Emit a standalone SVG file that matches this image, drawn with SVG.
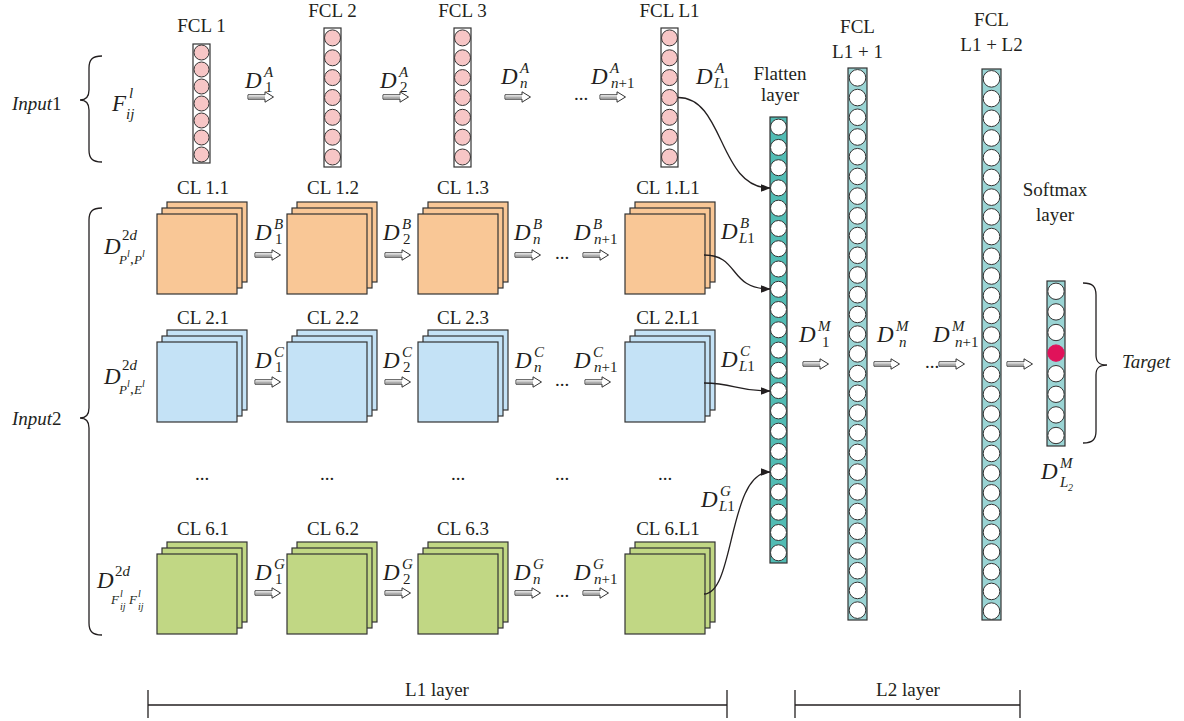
<svg xmlns="http://www.w3.org/2000/svg" xmlns:xlink="http://www.w3.org/1999/xlink" width="1184" height="721" viewBox="0 0 1184 721">
<style>
.t{font-family:"Liberation Serif",serif;font-size:19px;fill:#231f20}
.d{font-family:"Liberation Serif",serif;font-size:23px;font-style:italic;fill:#231f20}
.s{font-family:"Liberation Serif",serif;font-size:15px;fill:#231f20}
.si{font-family:"Liberation Serif",serif;font-size:15px;font-style:italic;fill:#231f20}
.sm{font-family:"Liberation Serif",serif;font-size:13px;font-style:italic;fill:#231f20}
.xs{font-family:"Liberation Serif",serif;font-size:10px;font-style:italic;fill:#231f20}
.i{font-style:italic}
.col{stroke:#333;stroke-width:1.2}
.cw{fill:#fff;stroke:#333;stroke-width:1}
.cp{fill:#f7c6c6;stroke:#333;stroke-width:1}
.ln{fill:none;stroke:#231f20;stroke-width:1.3}
.cv{fill:none;stroke:#231f20;stroke-width:1.3;marker-end:url(#ah)}
</style>
<defs>
<marker id="ah" markerWidth="10" markerHeight="8" refX="9.5" refY="4" orient="auto" markerUnits="userSpaceOnUse"><path d="M0,0 L10,4 L0,8 Z" fill="#231f20"/></marker>
<linearGradient id="gs" x1="0" y1="0" x2="0" y2="1"><stop offset="0" stop-color="#eeeeee"/><stop offset="1" stop-color="#8c8c8c"/></linearGradient>
<g id="ba"><path d="M0,-2.2 H17 V-5.2 L25.5,0 L17,5.2 V2.2 H0 Z" fill="#fff" stroke="#333" stroke-width="1"/><rect x="0.5" y="-1.7" width="16.5" height="3.4" fill="url(#gs)"/></g>
<g id="stack" stroke="#333" stroke-width="1.2"><rect x="10" y="-12" width="80" height="80"/><rect x="5" y="-6" width="80" height="80"/><rect x="0" y="0" width="80" height="80"/></g>
<g id="c7p" class="cp"><circle cx="0" cy="9.9" r="8"/><circle cx="0" cy="29.8" r="8"/><circle cx="0" cy="49.6" r="8"/><circle cx="0" cy="69.5" r="8"/><circle cx="0" cy="89.3" r="8"/><circle cx="0" cy="109.2" r="8"/><circle cx="0" cy="129" r="8"/></g>
<g id="c28" class="cw"><circle cx="0" cy="9.86" r="8.3"/><circle cx="0" cy="29.57" r="8.3"/><circle cx="0" cy="49.29" r="8.3"/><circle cx="0" cy="69" r="8.3"/><circle cx="0" cy="88.71" r="8.3"/><circle cx="0" cy="108.43" r="8.3"/><circle cx="0" cy="128.14" r="8.3"/><circle cx="0" cy="147.86" r="8.3"/><circle cx="0" cy="167.57" r="8.3"/><circle cx="0" cy="187.29" r="8.3"/><circle cx="0" cy="207" r="8.3"/><circle cx="0" cy="226.71" r="8.3"/><circle cx="0" cy="246.43" r="8.3"/><circle cx="0" cy="266.14" r="8.3"/><circle cx="0" cy="285.86" r="8.3"/><circle cx="0" cy="305.57" r="8.3"/><circle cx="0" cy="325.29" r="8.3"/><circle cx="0" cy="345" r="8.3"/><circle cx="0" cy="364.71" r="8.3"/><circle cx="0" cy="384.43" r="8.3"/><circle cx="0" cy="404.14" r="8.3"/><circle cx="0" cy="423.86" r="8.3"/><circle cx="0" cy="443.57" r="8.3"/><circle cx="0" cy="463.29" r="8.3"/><circle cx="0" cy="483" r="8.3"/><circle cx="0" cy="502.71" r="8.3"/><circle cx="0" cy="522.43" r="8.3"/><circle cx="0" cy="542.14" r="8.3"/></g>
</defs>
<rect width="1184" height="721" fill="#fff"/>

<g id="input1">
<path class="ln" d="M102,56 C92,56 89,60 89,68 L89,90 C89,97 86,100 80,100 C86,100 89,103 89,110 L89,150 C89,158 92,162 102,162"/>
<text class="t" x="12" y="110"><tspan class="i">Input</tspan>1</text>
<text class="d" x="112" y="111">F</text><text class="si" x="129" y="98">l</text><text class="si" x="126" y="119">ij</text>
</g>
<g id="input2">
<path class="ln" d="M102,208 C92,208 89,212 89,220 L89,408 C89,415 86,418 80,418 C86,418 89,421 89,428 L89,623 C89,631 92,635 102,635"/>
<text class="t" x="12" y="425"><tspan class="i">Input</tspan>2</text>
<text class="d" x="104" y="254">D</text><text class="s" x="122" y="240">2<tspan class="i">d</tspan></text>
<text class="sm" x="119" y="264">P</text><text class="xs" x="127" y="257">l</text><text class="s" x="130" y="264">,</text><text class="sm" x="134" y="264">P</text><text class="xs" x="142" y="257">l</text>
<text class="d" x="104" y="384">D</text><text class="s" x="122" y="370">2<tspan class="i">d</tspan></text>
<text class="sm" x="119" y="394">P</text><text class="xs" x="127" y="387">l</text><text class="s" x="130" y="394">,</text><text class="sm" x="134" y="394">E</text><text class="xs" x="142" y="387">l</text>
<text class="d" x="97" y="588">D</text><text class="s" x="115" y="576">2<tspan class="i">d</tspan></text>
<text class="sm" x="111" y="604">F</text><text class="xs" x="120" y="597">l</text><text class="xs" x="120" y="610">ij</text>
<text class="sm" x="129" y="604">F</text><text class="xs" x="138" y="597">l</text><text class="xs" x="138" y="610">ij</text>
</g>

<g id="fcl1"><text class="t" x="201.5" y="32" text-anchor="middle">FCL 1</text><rect class="col" x="193" y="44" width="17" height="119" fill="#fff"/>
<g class="cp"><circle cx="201.5" cy="52.5" r="7.5"/><circle cx="201.5" cy="69.5" r="7.5"/><circle cx="201.5" cy="86.5" r="7.5"/><circle cx="201.5" cy="103.5" r="7.5"/><circle cx="201.5" cy="120.5" r="7.5"/><circle cx="201.5" cy="137.5" r="7.5"/><circle cx="201.5" cy="154.5" r="7.5"/></g></g>
<g id="fcl2"><text class="t" x="332.5" y="17" text-anchor="middle">FCL 2</text><rect class="col" x="324" y="28" width="17" height="139" fill="#fff"/><use xlink:href="#c7p" x="332.5" y="28"/></g>
<g id="fcl3"><text class="t" x="462.5" y="17" text-anchor="middle">FCL 3</text><rect class="col" x="454" y="28" width="17" height="139" fill="#fff"/><use xlink:href="#c7p" x="462.5" y="28"/></g>
<g id="fclL1"><text class="t" x="669.5" y="17" text-anchor="middle">FCL L1</text><rect class="col" x="661" y="28" width="17" height="139" fill="#fff"/><use xlink:href="#c7p" x="669.5" y="28"/></g>

<g id="cl1-1"><text class="t" x="203" y="194" text-anchor="middle">CL 1.1</text><use xlink:href="#stack" x="157" y="214" fill="#f9c796"/></g>
<g id="cl1-2"><text class="t" x="333" y="194" text-anchor="middle">CL 1.2</text><use xlink:href="#stack" x="287" y="214" fill="#f9c796"/></g>
<g id="cl1-3"><text class="t" x="463" y="194" text-anchor="middle">CL 1.3</text><use xlink:href="#stack" x="418" y="214" fill="#f9c796"/></g>
<g id="cl1-L1"><text class="t" x="668" y="194" text-anchor="middle">CL 1.L1</text><use xlink:href="#stack" x="625" y="214" fill="#f9c796"/></g>
<g id="cl2-1"><text class="t" x="203" y="324" text-anchor="middle">CL 2.1</text><use xlink:href="#stack" x="157" y="342" fill="#c4e2f6"/></g>
<g id="cl2-2"><text class="t" x="333" y="324" text-anchor="middle">CL 2.2</text><use xlink:href="#stack" x="287" y="342" fill="#c4e2f6"/></g>
<g id="cl2-3"><text class="t" x="463" y="324" text-anchor="middle">CL 2.3</text><use xlink:href="#stack" x="418" y="342" fill="#c4e2f6"/></g>
<g id="cl2-L1"><text class="t" x="668" y="324" text-anchor="middle">CL 2.L1</text><use xlink:href="#stack" x="625" y="342" fill="#c4e2f6"/></g>
<g id="dots"><text class="t" x="202" y="480" text-anchor="middle">...</text><text class="t" x="327" y="480" text-anchor="middle">...</text><text class="t" x="458" y="480" text-anchor="middle">...</text><text class="t" x="562" y="480" text-anchor="middle">...</text><text class="t" x="665" y="480" text-anchor="middle">...</text></g>
<g id="cl6-1"><text class="t" x="203" y="535" text-anchor="middle">CL 6.1</text><use xlink:href="#stack" x="157" y="554" fill="#c1d784"/></g>
<g id="cl6-2"><text class="t" x="333" y="535" text-anchor="middle">CL 6.2</text><use xlink:href="#stack" x="287" y="554" fill="#c1d784"/></g>
<g id="cl6-3"><text class="t" x="463" y="535" text-anchor="middle">CL 6.3</text><use xlink:href="#stack" x="418" y="554" fill="#c1d784"/></g>
<g id="cl6-L1"><text class="t" x="668" y="535" text-anchor="middle">CL 6.L1</text><use xlink:href="#stack" x="625" y="554" fill="#c1d784"/></g>

<g id="flatten"><text class="t" x="780" y="80" text-anchor="middle">Flatten</text><text class="t" x="780" y="101" text-anchor="middle">layer</text>
<rect class="col" x="770" y="117" width="17" height="446" fill="#52bcb4"/>
<g class="cw"><circle cx="778.5" cy="127.1" r="8"/><circle cx="778.5" cy="147.4" r="8"/><circle cx="778.5" cy="167.7" r="8"/><circle cx="778.5" cy="187.9" r="8"/><circle cx="778.5" cy="208.2" r="8"/><circle cx="778.5" cy="228.5" r="8"/><circle cx="778.5" cy="248.7" r="8"/><circle cx="778.5" cy="269" r="8"/><circle cx="778.5" cy="289.3" r="8"/><circle cx="778.5" cy="309.5" r="8"/><circle cx="778.5" cy="329.8" r="8"/><circle cx="778.5" cy="350.1" r="8"/><circle cx="778.5" cy="370.3" r="8"/><circle cx="778.5" cy="390.6" r="8"/><circle cx="778.5" cy="410.9" r="8"/><circle cx="778.5" cy="431.2" r="8"/><circle cx="778.5" cy="451.4" r="8"/><circle cx="778.5" cy="471.7" r="8"/><circle cx="778.5" cy="492" r="8"/><circle cx="778.5" cy="512.2" r="8"/><circle cx="778.5" cy="532.5" r="8"/><circle cx="778.5" cy="552.8" r="8"/></g></g>
<g id="fclL1p1"><text class="t" x="857.5" y="33" text-anchor="middle">FCL</text><text class="t" x="857.5" y="58" text-anchor="middle">L1 + 1</text>
<rect class="col" x="848" y="68" width="19" height="552" fill="#9ad4d4"/><use xlink:href="#c28" x="857.5" y="68"/></g>
<g id="fclL1L2"><text class="t" x="991.5" y="26" text-anchor="middle">FCL</text><text class="t" x="991.5" y="51" text-anchor="middle">L1 + L2</text>
<rect class="col" x="982" y="69" width="19" height="551" fill="#9ad4d4"/><use xlink:href="#c28" x="991.5" y="69"/></g>
<g id="softmax"><text class="t" x="1055" y="196" text-anchor="middle">Softmax</text><text class="t" x="1055" y="221" text-anchor="middle">layer</text>
<rect class="col" x="1047" y="281" width="18" height="165" fill="#9ad4d4"/>
<g class="cw"><circle cx="1056" cy="291.3" r="8.2"/><circle cx="1056" cy="311.9" r="8.2"/><circle cx="1056" cy="332.5" r="8.2"/><circle cx="1056" cy="353.1" r="8.2" fill="#e0125a" stroke="#e0125a"/><circle cx="1056" cy="373.7" r="8.2"/><circle cx="1056" cy="394.3" r="8.2"/><circle cx="1056" cy="414.9" r="8.2"/><circle cx="1056" cy="435.5" r="8.2"/></g>
<text class="d" x="1041" y="479">D</text><text class="si" x="1060" y="468">M</text><text class="si" x="1060" y="487">L</text><text class="xs" x="1068" y="491" font-style="normal">2</text></g>
<g id="target"><path class="ln" d="M1083,283 C1093,283 1096,287 1096,295 L1096,355 C1096,362 1099,365 1107,365 C1099,365 1096,368 1096,375 L1096,431 C1096,439 1093,443 1083,443"/>
<text class="t i" x="1122" y="368">Target</text></g>

<g id="connectors">
<path class="cv" d="M678,97.5 C725,97.5 718,188 770,188"/>
<path class="cv" d="M704,255 C740,255 728,289 770,289"/>
<path class="cv" d="M704,383 C735,383 735,391 770,391"/>
<path class="cv" d="M704,594 C735,594 728,472 770,472"/>
<use xlink:href="#ba" x="248" y="97"/><use xlink:href="#ba" x="383" y="97"/><use xlink:href="#ba" x="505" y="97"/><use xlink:href="#ba" x="600" y="97"/>
<use xlink:href="#ba" x="255" y="255"/><use xlink:href="#ba" x="385" y="255"/><use xlink:href="#ba" x="515" y="255"/><use xlink:href="#ba" x="583" y="255"/>
<use xlink:href="#ba" x="255" y="382"/><use xlink:href="#ba" x="385" y="382"/><use xlink:href="#ba" x="516" y="382"/><use xlink:href="#ba" x="585" y="382"/>
<use xlink:href="#ba" x="255" y="593"/><use xlink:href="#ba" x="385" y="593"/><use xlink:href="#ba" x="515" y="593"/><use xlink:href="#ba" x="583" y="593"/>
<use xlink:href="#ba" x="803" y="364"/><use xlink:href="#ba" x="874" y="364"/><use xlink:href="#ba" x="939" y="364"/><use xlink:href="#ba" x="1007" y="364"/>
</g>

<g id="labels">
<text class="t" x="581" y="100" text-anchor="middle">...</text>
<text class="t" x="562" y="259" text-anchor="middle">...</text>
<text class="t" x="562" y="386" text-anchor="middle">...</text>
<text class="t" x="562" y="597" text-anchor="middle">...</text>
<text class="t" x="932" y="368" text-anchor="middle">...</text>

<text class="d" x="245" y="88">D</text><text class="si" x="264" y="77">A</text><text class="s" x="265" y="92">1</text>
<text class="d" x="380" y="88">D</text><text class="si" x="399" y="77">A</text><text class="s" x="400" y="92">2</text>
<text class="d" x="501" y="84">D</text><text class="si" x="520" y="73">A</text><text class="si" x="520" y="88">n</text>
<text class="d" x="591" y="84">D</text><text class="si" x="610" y="73">A</text><text class="si" x="611" y="88">n<tspan font-style="normal">+1</tspan></text>
<text class="d" x="696" y="84">D</text><text class="si" x="715" y="73">A</text><text class="si" x="714" y="88">L<tspan font-style="normal">1</tspan></text>

<text class="d" x="255" y="240">D</text><text class="si" x="274" y="229">B</text><text class="s" x="275" y="244">1</text>
<text class="d" x="383" y="240">D</text><text class="si" x="402" y="229">B</text><text class="s" x="403" y="244">2</text>
<text class="d" x="514" y="240">D</text><text class="si" x="533" y="229">B</text><text class="si" x="533" y="244">n</text>
<text class="d" x="574" y="240">D</text><text class="si" x="593" y="229">B</text><text class="si" x="594" y="244">n<tspan font-style="normal">+1</tspan></text>
<text class="d" x="721" y="239">D</text><text class="si" x="740" y="228">B</text><text class="si" x="739" y="243">L<tspan font-style="normal">1</tspan></text>

<text class="d" x="255" y="368">D</text><text class="si" x="274" y="357">C</text><text class="s" x="275" y="372">1</text>
<text class="d" x="383" y="368">D</text><text class="si" x="402" y="357">C</text><text class="s" x="403" y="372">2</text>
<text class="d" x="515" y="368">D</text><text class="si" x="534" y="357">C</text><text class="si" x="534" y="372">n</text>
<text class="d" x="574" y="368">D</text><text class="si" x="593" y="357">C</text><text class="si" x="594" y="372">n<tspan font-style="normal">+1</tspan></text>
<text class="d" x="721" y="367">D</text><text class="si" x="740" y="356">C</text><text class="si" x="739" y="371">L<tspan font-style="normal">1</tspan></text>

<text class="d" x="255" y="580">D</text><text class="si" x="274" y="569">G</text><text class="s" x="275" y="584">1</text>
<text class="d" x="383" y="580">D</text><text class="si" x="402" y="569">G</text><text class="s" x="403" y="584">2</text>
<text class="d" x="514" y="580">D</text><text class="si" x="533" y="569">G</text><text class="si" x="533" y="584">n</text>
<text class="d" x="574" y="580">D</text><text class="si" x="593" y="569">G</text><text class="si" x="594" y="584">n<tspan font-style="normal">+1</tspan></text>
<text class="d" x="701" y="507">D</text><text class="si" x="720" y="496">G</text><text class="si" x="719" y="511">L<tspan font-style="normal">1</tspan></text>

<text class="d" x="799" y="342">D</text><text class="si" x="818" y="331">M</text><text class="s" x="822" y="347">1</text>
<text class="d" x="877" y="342">D</text><text class="si" x="896" y="331">M</text><text class="si" x="899" y="347">n</text>
<text class="d" x="933" y="342">D</text><text class="si" x="952" y="331">M</text><text class="si" x="955" y="347">n<tspan font-style="normal">+1</tspan></text>
</g>

<g id="scale">
<line class="ln" x1="148" y1="705" x2="727" y2="705"/><line class="ln" x1="148" y1="690" x2="148" y2="718"/><line class="ln" x1="727" y1="690" x2="727" y2="718"/>
<line class="ln" x1="795" y1="705" x2="1020" y2="705"/><line class="ln" x1="795" y1="690" x2="795" y2="718"/><line class="ln" x1="1020" y1="690" x2="1020" y2="718"/>
<text class="t" x="437" y="696" text-anchor="middle">L1 layer</text>
<text class="t" x="908" y="696" text-anchor="middle">L2 layer</text>
</g>
</svg>
